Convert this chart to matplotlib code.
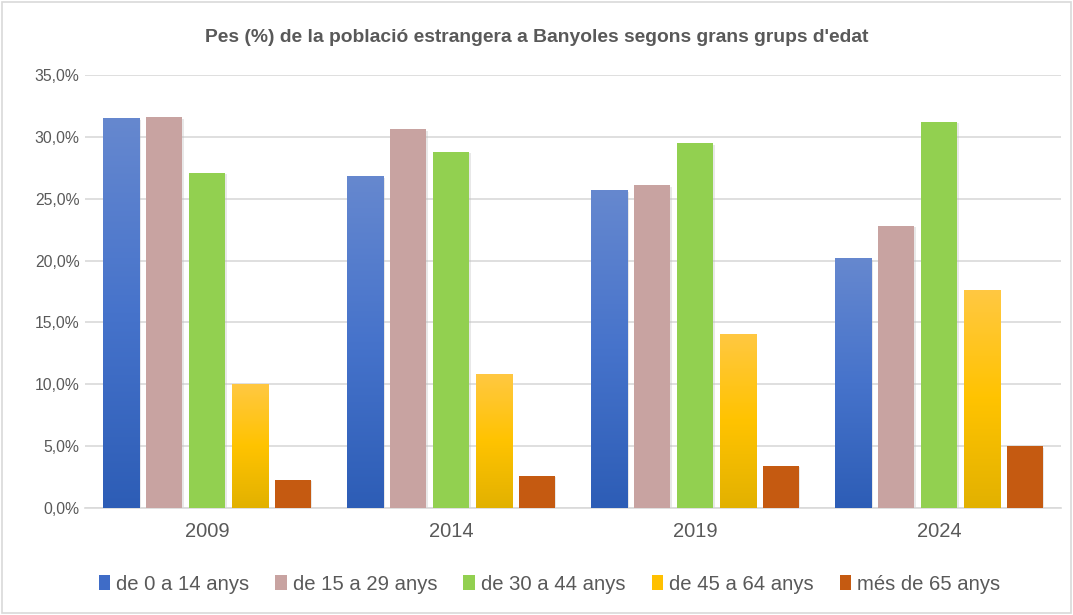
import matplotlib
matplotlib.use("Agg")
import matplotlib.pyplot as plt
import numpy as np
from matplotlib.ticker import FuncFormatter, MultipleLocator
from matplotlib.colors import LinearSegmentedColormap
from matplotlib.patches import Rectangle, Patch

years = ["2009", "2014", "2019", "2024"]
series_names = ["de 0 a 14 anys", "de 15 a 29 anys", "de 30 a 44 anys",
                "de 45 a 64 anys", "més de 65 anys"]
age_0_14 = [31.5, 26.8, 25.7, 20.2]
age_15_29 = [31.6, 30.6, 26.1, 22.8]
age_30_44 = [27.1, 28.8, 29.5, 31.2]
age_45_64 = [10.0, 10.8, 14.1, 17.6]
age_65_plus = [2.3, 2.6, 3.4, 5.0]
series = [age_0_14, age_15_29, age_30_44, age_45_64, age_65_plus]

base_colors = ["#4472c4", "#c8a3a1", "#92d050", "#ffc000", "#c55a11"]
gradients = {
    0: ["#2d5db6", "#4673cb", "#6688cf"],   # bottom, middle, top
    3: ["#e2b100", "#ffc300", "#ffc842"],
}

plt.rcParams['font.family'] = ['Liberation Sans', 'DejaVu Sans']

fig = plt.figure(figsize=(10.73, 6.15), dpi=100)
ax = fig.add_axes([85/1073, 1-508/615, (1061-85)/1073, (508-75)/615])

x = np.arange(len(years))
step = 0.176
width = 0.148
for i, vals in enumerate(series):
    offs = (i - 2) * step
    # soft shadow
    ax.bar(x + offs + 0.006, vals, width, bottom=-0.12, color="#bfbfbf",
           alpha=0.35, zorder=2, linewidth=0)
    bars = ax.bar(x + offs, vals, width, color=base_colors[i], zorder=3,
                  linewidth=0, label=series_names[i])
    if i in gradients:
        cmap = LinearSegmentedColormap.from_list("g%d" % i, gradients[i])
        grad = np.linspace(0, 1, 256).reshape(-1, 1)
        for b in bars:
            bx, by = b.get_x(), b.get_y()
            bw, bh = b.get_width(), b.get_height()
            im = ax.imshow(grad, cmap=cmap, origin="lower", aspect="auto",
                           extent=[bx, bx + bw, by, by + bh], zorder=3.5,
                           interpolation="bicubic")
            im.set_clip_path(b)

ax.set_xlim(-0.5, len(years) - 0.5)
ax.set_ylim(0, 35)
ax.yaxis.set_major_locator(MultipleLocator(5))
ax.yaxis.set_major_formatter(FuncFormatter(lambda v, p: f"{v:.1f}%".replace(".", ",")))
ax.set_xticks(x)
ax.set_xticklabels(years)
ax.grid(axis="y", color="#d9d9d9", linewidth=1.2, zorder=0)
ax.set_axisbelow(True)
for s in ["top", "right", "left"]:
    ax.spines[s].set_visible(False)
ax.spines["bottom"].set_color("#d9d9d9")
ax.spines["bottom"].set_linewidth(1.2)
ax.tick_params(axis="both", length=0, colors="#595959")
ax.tick_params(axis="y", labelsize=11.3, pad=4)
ax.tick_params(axis="x", labelsize=14.5, pad=10)

fig.text(0.5, 1 - 38/615, "Pes (%) de la població estrangera a Banyoles segons grans grups d'edat",
         ha="center", va="center", fontsize=13.9, fontweight="bold", color="#595959")

handles = [Patch(facecolor=c, edgecolor="none") for c in
           ["#3f6cc7", base_colors[1], base_colors[2], "#ffc000", base_colors[4]]]
fig.legend(handles, series_names, loc="center", bbox_to_anchor=(0.512, 1 - 584/615),
           ncol=5, frameon=False, fontsize=14.6, handlelength=0.55, handleheight=0.8,
           handletextpad=0.3, columnspacing=1.3, labelcolor="#595959")

fig.add_artist(Rectangle((2/1073, 2/615), 1 - 4/1073, 1 - 4/615, transform=fig.transFigure,
                         fill=False, edgecolor="#d9d9d9", linewidth=1.2))

fig.savefig("out.png", dpi=100)
